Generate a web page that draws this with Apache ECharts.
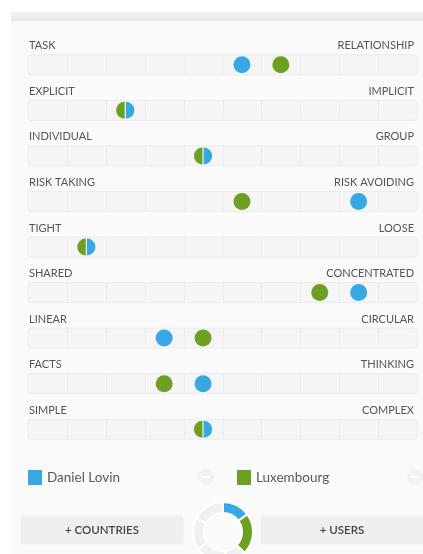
<!DOCTYPE html>
<html>
<head>
<meta charset="utf-8">
<script src="https://cdn.jsdelivr.net/npm/echarts@6/dist/echarts.min.js"></script>
<style>
  html, body { margin: 0; padding: 0; background: #fff; }
  #main { width: 423px; height: 554px; }
</style>
</head>
<body>
<div id="main"></div>
<script>
// dimension labels, left end and right end of each scale
const leftLabels = ['TASK', 'EXPLICIT', 'INDIVIDUAL', 'RISK TAKING', 'TIGHT', 'SHARED', 'LINEAR', 'FACTS', 'SIMPLE']
const rightLabels = ['RELATIONSHIP', 'IMPLICIT', 'GROUP', 'RISK AVOIDING', 'LOOSE', 'CONCENTRATED', 'CIRCULAR', 'THINKING', 'COMPLEX']
// scores on a 1..10 scale
const danielScores = [6, 3, 5, 9, 2, 9, 4, 5, 5]
const luxScores = [7, 3, 5, 6, 2, 8, 5, 4, 5]
// small donut under the legend (blue, green, then grey parts)
const donutValues = [54, 80, 40, 62, 62, 62]

const BLUE = '#37a8e2'
const GREEN = '#6c9f22'
const FONT = 'Lato, "Open Sans", sans-serif'

let myChart = echarts.init(document.getElementById('main'))

// track with 10 cells and the two end labels
function renderTrack(params, api) {
  let i = api.value(0)
  let p0 = api.coord([0, i])
  let p1 = api.coord([10, i])
  let children = [{
    type: 'rect',
    shape: { x: p0[0], y: p0[1] - 10, width: p1[0] - p0[0], height: 20, r: 3 },
    style: { fill: '#f5f5f5', stroke: '#ebebeb', lineWidth: 1 }
  }]
  for (let k = 1; k < 10; k++) {
    let x = Math.round(api.coord([k, i])[0]) + 0.5
    children.push({
      type: 'line',
      shape: { x1: x, y1: p0[1] - 9, x2: x, y2: p0[1] + 9 },
      style: { stroke: '#e2e2e2', lineWidth: 1, lineDash: [1, 1] }
    })
  }
  children.push({
    type: 'text',
    style: { x: p0[0] + 1, y: p0[1] - 19, text: leftLabels[i], fill: '#555', font: '11px ' + FONT, verticalAlign: 'middle', align: 'left' }
  })
  children.push({
    type: 'text',
    style: { x: p1[0] - 3, y: p0[1] - 19, text: rightLabels[i], fill: '#555', font: '11px ' + FONT, verticalAlign: 'middle', align: 'right' }
  })
  return { type: 'group', children: children }
}

function dotRenderer(scores, other, color, side) {
  return function (params, api) {
    let i = api.value(0)
    let p = api.coord([scores[i] - 0.5, i])
    if (scores[i] === other[i]) {
      // same score: split the dot in two halves
      let left = side === 'left'
      return {
        type: 'sector',
        shape: {
          cx: p[0] + (left ? -0.6 : 0.6), cy: p[1], r0: 0, r: 8.5,
          startAngle: left ? Math.PI / 2 : -Math.PI / 2,
          endAngle: left ? Math.PI * 1.5 : Math.PI / 2,
          clockwise: true
        },
        style: { fill: color }
      }
    }
    return {
      type: 'circle',
      shape: { cx: p[0], cy: p[1], r: 8.5 },
      style: { fill: color }
    }
  }
}

let rows = leftLabels.map((l, i) => [i])

let legendText = { fontSize: 13.5, color: '#5a5560', fontFamily: FONT }

let option = {
  animation: false,
  textStyle: { fontFamily: FONT },
  graphic: [
    { type: 'rect', shape: { x: 11, y: 21, width: 412, height: 533 }, style: { fill: '#fafafa' } },
    {
      type: 'rect', shape: { x: 11, y: 12, width: 412, height: 9 },
      style: { fill: new echarts.graphic.LinearGradient(0, 0, 0, 1, [{ offset: 0, color: '#f3f3f6' }, { offset: 1, color: '#e9e9ed' }]) }
    },
    { type: 'circle', shape: { cx: 206, cy: 477, r: 8 }, style: { fill: '#f2f2f2' } },
    { type: 'rect', shape: { x: 202, y: 476, width: 8, height: 2 }, style: { fill: '#fff' } },
    { type: 'circle', shape: { cx: 415, cy: 477, r: 8 }, style: { fill: '#f2f2f2' } },
    { type: 'rect', shape: { x: 411, y: 476, width: 8, height: 2 }, style: { fill: '#fff' } },
    { type: 'rect', shape: { x: 20.5, y: 515.5, width: 163, height: 29, r: 3 }, style: { fill: '#efefef' } },
    { type: 'text', style: { x: 102, y: 530, text: '+ COUNTRIES', fill: '#444', font: '600 11.5px ' + FONT, align: 'center', verticalAlign: 'middle' } },
    { type: 'rect', shape: { x: 260.5, y: 515.5, width: 170, height: 29, r: 3 }, style: { fill: '#efefef' } },
    { type: 'text', style: { x: 342, y: 530, text: '+ USERS', fill: '#444', font: '600 11.5px ' + FONT, align: 'center', verticalAlign: 'middle' } }
  ],
  legend: [
    {
      data: ['Daniel Lovin'], left: 28, top: 470, padding: 0, icon: 'rect', itemWidth: 14, itemHeight: 15,
      selectedMode: false, textStyle: legendText, itemGap: 7
    },
    {
      data: ['Luxembourg'], left: 237, top: 470, padding: 0, icon: 'rect', itemWidth: 14, itemHeight: 15,
      selectedMode: false, textStyle: legendText, itemGap: 7
    }
  ],
  grid: { left: 28, right: 6, top: 42, height: 410 },
  xAxis: { type: 'value', min: 0, max: 10, show: false },
  yAxis: { type: 'value', min: -0.5, max: 8.5, inverse: true, show: false },
  series: [
    { type: 'custom', name: 'track', data: rows, renderItem: renderTrack, silent: true, z: 1 },
    {
      type: 'custom', name: 'Luxembourg', data: rows, itemStyle: { color: GREEN },
      renderItem: dotRenderer(luxScores, danielScores, GREEN, 'left'), z: 3
    },
    {
      type: 'custom', name: 'Daniel Lovin', data: rows, itemStyle: { color: BLUE },
      renderItem: dotRenderer(danielScores, luxScores, BLUE, 'right'), z: 3
    },
    {
      type: 'pie', center: [223, 532], radius: [19, 30], startAngle: 90, clockwise: true, silent: true,
      label: { show: false }, labelLine: { show: false },
      itemStyle: { borderColor: '#fff', borderWidth: 2 },
      data: donutValues.map((v, i) => ({
        value: v,
        itemStyle: { color: i === 0 ? BLUE : i === 1 ? GREEN : '#f0f0f0' }
      }))
    }
  ]
}

myChart.setOption(option)
</script>
</body>
</html>
